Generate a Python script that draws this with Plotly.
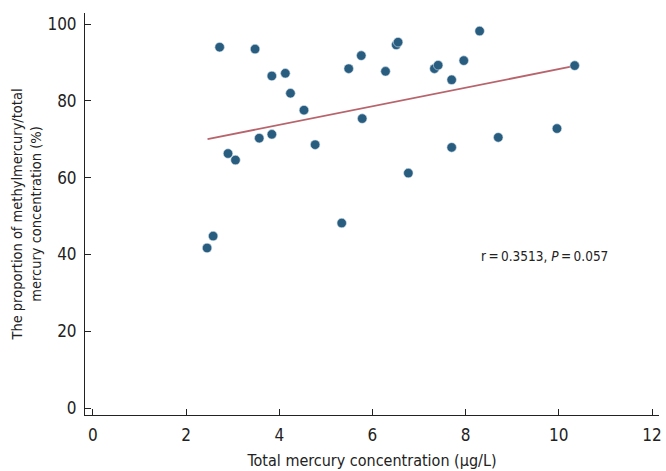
import plotly.graph_objects as go

# Data
total_hg = [2.45, 2.58, 2.72, 2.90, 3.06, 3.48, 3.57, 3.84, 3.84, 4.13,
            4.24, 4.53, 4.77, 5.34, 5.49, 5.76, 5.78, 6.28, 6.51, 6.55,
            6.77, 7.33, 7.41, 7.70, 7.70, 7.96, 8.30, 8.70, 9.96, 10.34]
mehg_pct = [41.7, 44.8, 94.0, 66.3, 64.6, 93.5, 70.3, 86.5, 71.3, 87.2,
            82.0, 77.6, 68.6, 48.2, 88.4, 91.8, 75.4, 87.7, 94.6, 95.3,
            61.2, 88.4, 89.3, 85.5, 67.9, 90.5, 98.2, 70.5, 72.8, 89.2]
trend_x = [2.46, 10.34]
trend_y = [70.05, 89.1]
x_ticks = [0, 2, 4, 6, 8, 10, 12]
y_ticks = [0, 20, 40, 60, 80, 100]

FONT = "DejaVu Sans Condensed, Liberation Sans Narrow, sans-serif"
INK = "#222222"

fig = go.Figure()
fig.add_trace(go.Scatter(
    x=trend_x, y=trend_y, mode="lines",
    line=dict(color="#b8646c", width=1.8), hoverinfo="skip", showlegend=False))
fig.add_trace(go.Scatter(
    x=total_hg, y=mehg_pct, mode="markers",
    marker=dict(color="#285d80", size=9.5, line=dict(color="#d7e3ec", width=0.6)),
    showlegend=False))

axis_common = dict(
    showgrid=False, zeroline=False, showline=True, linecolor=INK, linewidth=1,
    ticks="inside", ticklen=6, tickwidth=1, tickcolor=INK,
    tickfont=dict(family=FONT, size=17, color=INK),
)

fig.update_layout(
    width=666, height=471,
    margin=dict(l=85, r=4, t=13, b=56),
    paper_bgcolor="white", plot_bgcolor="white",
    font=dict(family=FONT, color=INK),
    xaxis=dict(range=[-0.17, 12.15], tickvals=x_ticks, ticklabelstandoff=5, **axis_common,
               title=dict(text="Total mercury concentration (μg/L)",
                          font=dict(family=FONT, size=16, color=INK), standoff=10)),
    yaxis=dict(range=[-1.8, 102.9], tickvals=y_ticks, ticklabelstandoff=4, **axis_common,
               title=dict(text="The proportion of methylmercury/total<br>mercury concentration (%)",
                          font=dict(family=FONT, size=14.5, color=INK), standoff=2)),
    annotations=[dict(
        x=0.80, y=0.396, xref="paper", yref="paper", showarrow=False,
        xanchor="center", yanchor="middle",
        text="r\u2009=\u20090.3513, <i>P</i>\u2009=\u20090.057",
        font=dict(family=FONT, size=13.5, color=INK))],
)

fig.write_html("out.html")
